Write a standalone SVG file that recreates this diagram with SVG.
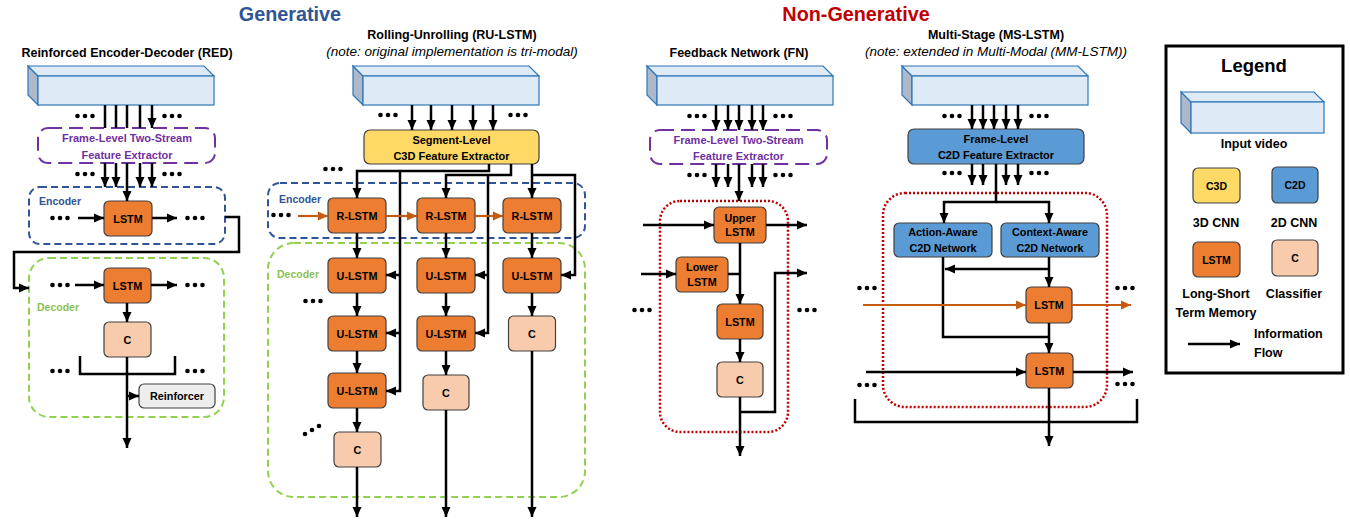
<svg xmlns="http://www.w3.org/2000/svg" xmlns:xlink="http://www.w3.org/1999/xlink" width="1350" height="523" viewBox="0 0 1350 523">
<style>
text{font-family:"Liberation Sans",Arial,sans-serif;font-weight:bold;fill:#000}
.bx{font-size:10.8px;text-anchor:middle}
.h{font-size:12.5px;text-anchor:middle}
.note{font-size:13.5px;font-weight:normal;font-style:italic;text-anchor:middle}
.lg{font-size:12.5px;text-anchor:middle}
.lstm{fill:#ED7D31;stroke:#404040;stroke-width:1.2}
.clf{fill:#F8CBAD;stroke:#404040;stroke-width:1.2}
.c3d{fill:#FFD966;stroke:#404040;stroke-width:1.2}
.c2d{fill:#5B9BD5;stroke:#404040;stroke-width:1.2}
.rf{fill:#EDEDED;stroke:#404040;stroke-width:1.2}
.vf{fill:#DEEBF7;stroke:#2E75B6;stroke-width:1.2}
.vs{fill:#ADB9CA;stroke:#2E75B6;stroke-width:1.2}
.ar{fill:none;stroke:#000;stroke-width:2.5;marker-end:url(#ah)}
.ln{fill:none;stroke:#000;stroke-width:2.5}
.or{fill:none;stroke:#C55A11;stroke-width:2.2;marker-end:url(#aho)}
.pu{fill:none;stroke:#7030A0;stroke-width:2;stroke-dasharray:14 7}
.enc{fill:none;stroke:#2F5597;stroke-width:2;stroke-dasharray:7 4}
.dec{fill:none;stroke:#92D050;stroke-width:2;stroke-dasharray:7 4}
.rd{fill:none;stroke:#C00000;stroke-width:2.5;stroke-dasharray:2 2}
.pt{fill:#7030A0;font-size:11px;text-anchor:middle}
.et{fill:#2F5597;font-size:10.5px}
.dt{fill:#8CC152;font-size:10.5px}
</style>
<defs>
<marker id="ah" markerUnits="userSpaceOnUse" markerWidth="11" markerHeight="10" refX="10" refY="5" orient="auto"><path d="M0,0.5 L10,5 L0,9.5 z" fill="#000"/></marker>
<marker id="aho" markerUnits="userSpaceOnUse" markerWidth="11" markerHeight="10" refX="10" refY="5" orient="auto"><path d="M0,0.5 L10,5 L0,9.5 z" fill="#C55A11"/></marker>
<g id="vid">
<polygon class="vs" points="0,0 10,10 10,39 0,29"/>
<polygon class="vf" points="0,0 176,0 186,10 10,10"/>
<rect class="vf" x="10" y="10" width="176" height="29"/>
</g>
<g id="dots"><circle cx="2.5" cy="0" r="2.3"/><circle cx="10" cy="0" r="2.3"/><circle cx="17.5" cy="0" r="2.3"/></g>
</defs>
<rect width="1350" height="523" fill="#fff"/>

<g id="section-titles">
<text x="290" y="21" style="font-size:19.8px;fill:#2F5597;text-anchor:middle">Generative</text>
<text x="856" y="21" style="font-size:19.8px;fill:#C00000;text-anchor:middle">Non-Generative</text>
<text class="h" x="127" y="57">Reinforced Encoder-Decoder (RED)</text>
<text class="h" x="452" y="39">Rolling-Unrolling (RU-LSTM)</text>
<text class="note" x="452" y="56">(note: original implementation is tri-modal)</text>
<text class="h" x="739" y="57">Feedback Network (FN)</text>
<text class="h" x="996" y="39">Multi-Stage (MS-LSTM)</text>
<text class="note" x="996" y="56">(note: extended in Multi-Modal (MM-LSTM))</text>
</g>

<!-- containers -->
<g id="red-encoder"><rect class="enc" x="29" y="187" width="196" height="57" rx="11"/><text class="et" x="39" y="205">Encoder</text></g>
<g id="red-decoder"><rect class="dec" x="29" y="258" width="195" height="159" rx="20"/><text class="dt" x="37" y="311">Decoder</text></g>
<g id="ru-encoder"><rect class="enc" x="268" y="183" width="317" height="55" rx="12"/><text class="et" x="279" y="203">Encoder</text></g>
<g id="ru-decoder"><rect class="dec" x="268" y="243" width="317" height="254" rx="26"/><text class="dt" x="277" y="278">Decoder</text></g>
<g id="fn-block"><rect class="rd" x="660" y="201" width="128" height="231" rx="20"/></g>
<g id="ms-block"><rect class="rd" x="883" y="193" width="224" height="214" rx="22"/></g>

<!-- RED nodes -->
<g id="red-video"><use xlink:href="#vid" href="#vid" x="28" y="66"/></g>
<g id="red-extractor"><rect class="pu" x="38" y="128" width="177" height="35" rx="10"/><text class="pt" x="127" y="142">Frame-Level Two-Stream</text><text class="pt" x="127" y="159">Feature Extractor</text></g>
<g id="red-enc-lstm"><rect class="lstm" x="104" y="201" width="48" height="35" rx="5"/><text class="bx" x="128" y="222.5">LSTM</text></g>
<g id="red-dec-lstm"><rect class="lstm" x="104" y="268" width="47" height="35" rx="5"/><text class="bx" x="127.5" y="289.5">LSTM</text></g>
<g id="red-classifier"><rect class="clf" x="104" y="322" width="47" height="35" rx="5"/><text class="bx" x="127.5" y="343.5">C</text></g>
<g id="red-reinforcer"><rect class="rf" x="139" y="384" width="76" height="24" rx="5"/><text class="bx" x="177" y="400">Reinforcer</text></g>

<!-- RU-LSTM nodes -->
<g id="ru-video"><use xlink:href="#vid" href="#vid" x="353" y="66"/></g>
<g id="ru-extractor"><rect class="c3d" x="364" y="130" width="175" height="34" rx="6"/><text class="bx" x="451.5" y="144" style="font-size:11px">Segment-Level</text><text class="bx" x="451.5" y="160" style="font-size:11px">C3D Feature Extractor</text></g>
<g id="ru-r1"><rect class="lstm" x="328" y="198" width="58" height="35" rx="5"/><text class="bx" x="357" y="219.5">R-LSTM</text></g>
<g id="ru-r2"><rect class="lstm" x="417" y="198" width="58" height="35" rx="5"/><text class="bx" x="446" y="219.5">R-LSTM</text></g>
<g id="ru-r3"><rect class="lstm" x="503" y="198" width="58" height="35" rx="5"/><text class="bx" x="532" y="219.5">R-LSTM</text></g>
<g id="ru-u11"><rect class="lstm" x="328" y="258" width="58" height="35" rx="5"/><text class="bx" x="357" y="279.5">U-LSTM</text></g>
<g id="ru-u12"><rect class="lstm" x="328" y="316" width="58" height="35" rx="5"/><text class="bx" x="357" y="337.5">U-LSTM</text></g>
<g id="ru-u13"><rect class="lstm" x="328" y="373" width="58" height="35" rx="5"/><text class="bx" x="357" y="394.5">U-LSTM</text></g>
<g id="ru-c1"><rect class="clf" x="334" y="432" width="47" height="35" rx="5"/><text class="bx" x="357.5" y="453.5">C</text></g>
<g id="ru-u21"><rect class="lstm" x="417" y="258" width="58" height="35" rx="5"/><text class="bx" x="446" y="279.5">U-LSTM</text></g>
<g id="ru-u22"><rect class="lstm" x="417" y="316" width="58" height="35" rx="5"/><text class="bx" x="446" y="337.5">U-LSTM</text></g>
<g id="ru-c2"><rect class="clf" x="423" y="375" width="46" height="35" rx="5"/><text class="bx" x="446" y="396.5">C</text></g>
<g id="ru-u31"><rect class="lstm" x="503" y="258" width="58" height="35" rx="5"/><text class="bx" x="532" y="279.5">U-LSTM</text></g>
<g id="ru-c3"><rect class="clf" x="508.5" y="316" width="47" height="35" rx="5"/><text class="bx" x="532" y="337.5">C</text></g>

<!-- FN nodes -->
<g id="fn-video"><use xlink:href="#vid" href="#vid" x="647" y="66"/></g>
<g id="fn-extractor"><rect class="pu" x="650" y="130" width="177" height="34" rx="10"/><text class="pt" x="738.5" y="144">Frame-Level Two-Stream</text><text class="pt" x="738.5" y="160">Feature Extractor</text></g>
<g id="fn-upper"><rect class="lstm" x="714" y="207" width="52" height="36" rx="5"/><text class="bx" x="740" y="222">Upper</text><text class="bx" x="740" y="236">LSTM</text></g>
<g id="fn-lower"><rect class="lstm" x="676" y="257" width="52" height="35" rx="5"/><text class="bx" x="702" y="271">Lower</text><text class="bx" x="702" y="286">LSTM</text></g>
<g id="fn-lstm"><rect class="lstm" x="717" y="304" width="46" height="35" rx="5"/><text class="bx" x="740" y="325.5">LSTM</text></g>
<g id="fn-classifier"><rect class="clf" x="717" y="362" width="46" height="35" rx="5"/><text class="bx" x="740" y="383.5">C</text></g>

<!-- MS-LSTM nodes -->
<g id="ms-video"><use xlink:href="#vid" href="#vid" x="902" y="66"/></g>
<g id="ms-extractor"><rect class="c2d" x="908" y="129" width="176" height="35" rx="6"/><text class="bx" x="996" y="142.5" style="font-size:11px">Frame-Level</text><text class="bx" x="996" y="159" style="font-size:11px">C2D Feature Extractor</text></g>
<g id="ms-action"><rect class="c2d" x="894" y="223" width="98" height="34" rx="5"/><text class="bx" x="943" y="236">Action-Aware</text><text class="bx" x="943" y="252">C2D Network</text></g>
<g id="ms-context"><rect class="c2d" x="1001" y="223" width="98" height="34" rx="5"/><text class="bx" x="1050" y="236">Context-Aware</text><text class="bx" x="1050" y="252">C2D Network</text></g>
<g id="ms-lstm1"><rect class="lstm" x="1026" y="287" width="46" height="36" rx="5"/><text class="bx" x="1049" y="309">LSTM</text></g>
<g id="ms-lstm2"><rect class="lstm" x="1026" y="353" width="47" height="35" rx="5"/><text class="bx" x="1049.5" y="374.5">LSTM</text></g>

<!-- connectors -->
<g id="connectors">
<path class="ar" d="M105,105V128M116,105V128M127,105V128M140,105V128M152,105V128"/>
<path class="ar" d="M105,163V187"/><path class="ar" d="M116,163V187"/><path class="ar" d="M140,163V187"/><path class="ar" d="M152,163V187"/><path class="ar" d="M127,163V201"/>
<path class="ar" d="M78,218H104"/><path class="ar" d="M152,218H177"/>
<path class="ar" d="M225,217H239V252H14V288H29"/>
<path class="ar" d="M75,285H104"/><path class="ar" d="M151,285H177"/>
<path class="ar" d="M127,303V322"/>
<path class="ln" d="M80,356V374H175V356"/>
<path class="ar" d="M127,357V448"/>
<path class="ar" d="M127,396H139"/>

<path class="ar" d="M412,105V130"/><path class="ar" d="M431,105V130"/><path class="ar" d="M452,105V130"/><path class="ar" d="M473,105V130"/><path class="ar" d="M493,105V130"/>
<path class="ar" d="M489,164V171H357V198"/>
<path class="ar" d="M400,171V391H386"/><path class="ar" d="M400,275H386"/><path class="ar" d="M400,333H386"/>
<path class="ar" d="M511,164V175H446V198"/>
<path class="ar" d="M488,175V333H475"/><path class="ar" d="M488,275H475"/>
<path class="ar" d="M532,164V198"/>
<path class="ar" d="M532,175H575V275H561"/>
<path class="or" d="M298,216H328"/><path class="or" d="M386,216H417"/><path class="or" d="M475,216H503"/>
<path class="ar" d="M357,233V258"/><path class="ar" d="M446,233V258"/><path class="ar" d="M532,233V258"/>
<path class="ar" d="M357,293V316"/><path class="ar" d="M357,351V373"/><path class="ar" d="M357,408V432"/><path class="ar" d="M357,467V517"/>
<path class="ar" d="M446,293V316"/><path class="ar" d="M446,351V375"/><path class="ar" d="M446,410V517"/>
<path class="ar" d="M532,293V316"/><path class="ar" d="M532,351V517"/>

<path class="ar" d="M716,105V130"/><path class="ar" d="M728,105V130"/><path class="ar" d="M739,105V130"/><path class="ar" d="M752,105V130"/><path class="ar" d="M763,105V130"/>
<path class="ar" d="M716,164V187"/><path class="ar" d="M728,164V187"/><path class="ar" d="M752,164V187"/><path class="ar" d="M763,164V187"/><path class="ar" d="M739,164V201"/>
<path class="ar" d="M643,225H714"/><path class="ar" d="M766,225H807"/>
<path class="ar" d="M641,274H676"/>
<path class="ln" d="M728,274H740"/>
<path class="ar" d="M740,243V304"/>
<path class="ar" d="M740,339V362"/>
<path class="ar" d="M740,397V456"/>
<path class="ar" d="M740,412H775V273H807"/>

<path class="ar" d="M972,105V129"/><path class="ar" d="M983,105V129"/><path class="ar" d="M994,105V129"/><path class="ar" d="M1006,105V129"/><path class="ar" d="M1018,105V129"/>
<path class="ar" d="M972,164V185"/><path class="ar" d="M983,164V185"/><path class="ar" d="M1006,164V185"/><path class="ar" d="M1018,164V185"/>
<path class="ar" d="M996,164V202H944V223"/><path class="ar" d="M996,202H1049V223"/>
<path class="ln" d="M943,257V337H1049"/>
<path class="ar" d="M1049,323V353"/>
<path class="ar" d="M1049,257V287"/><path class="ar" d="M1049,269H945"/>
<path class="or" d="M863,305H1026"/><path class="or" d="M1072,305H1131"/>
<path class="ar" d="M866,372H1026"/><path class="ar" d="M1073,372H1133"/>
<path class="ln" d="M855,399V422H1137V399"/>
<path class="ar" d="M1049,388V446"/>
</g>

<g id="ellipses" fill="#000">
<use href="#dots" x="75" y="116"/><use href="#dots" x="162" y="116"/>
<use href="#dots" x="75" y="174"/><use href="#dots" x="162" y="174"/>
<use href="#dots" x="50" y="218"/><use href="#dots" x="185" y="218"/>
<use href="#dots" x="50" y="285"/><use href="#dots" x="185" y="285"/>
<use href="#dots" x="50" y="371"/><use href="#dots" x="185" y="371"/>
<use href="#dots" x="378" y="115"/><use href="#dots" x="508" y="115"/>
<use href="#dots" x="323" y="169"/><use href="#dots" x="271" y="215"/>
<use href="#dots" x="303" y="301"/>
<circle cx="305" cy="434" r="2.3"/><circle cx="312" cy="430" r="2.3"/><circle cx="319" cy="426" r="2.3"/>
<use href="#dots" x="687" y="116"/><use href="#dots" x="773" y="116"/>
<use href="#dots" x="687" y="175"/><use href="#dots" x="773" y="175"/>
<use href="#dots" x="632" y="310"/><use href="#dots" x="797" y="310"/>
<use href="#dots" x="942" y="116"/><use href="#dots" x="1029" y="116"/>
<use href="#dots" x="942" y="173"/><use href="#dots" x="1029" y="173"/>
<use href="#dots" x="857" y="288"/><use href="#dots" x="1115" y="288"/>
<use href="#dots" x="857" y="385"/><use href="#dots" x="1115" y="384"/>
</g>

<!-- legend -->
<g id="legend">
<rect x="1166" y="46" width="177" height="327" fill="#fff" stroke="#000" stroke-width="3"/>
<text x="1254" y="72" style="font-size:18.5px;text-anchor:middle">Legend</text>
<g id="legend-video">
<polygon class="vs" points="1181,92 1191,102 1191,133 1181,123"/>
<polygon class="vf" points="1181,92 1314,92 1324,102 1191,102"/>
<rect class="vf" x="1191" y="102" width="133" height="31"/>
<text class="lg" x="1254" y="148">Input video</text>
</g>
<g id="legend-c3d"><rect class="c3d" x="1193" y="168" width="47" height="35" rx="5"/><text class="bx" x="1216.5" y="189.5" style="font-size:10.5px">C3D</text><text class="lg" x="1216" y="227">3D CNN</text></g>
<g id="legend-c2d"><rect class="c2d" x="1272" y="167" width="46" height="36" rx="5"/><text class="bx" x="1295" y="189" style="font-size:10.5px">C2D</text><text class="lg" x="1294" y="227">2D CNN</text></g>
<g id="legend-lstm"><rect class="lstm" x="1193" y="242" width="47" height="35" rx="5"/><text class="bx" x="1216.5" y="263.5" style="font-size:10.5px">LSTM</text><text class="lg" x="1216" y="298">Long-Short</text><text class="lg" x="1216" y="317">Term Memory</text></g>
<g id="legend-clf"><rect class="clf" x="1272" y="240" width="46" height="36" rx="5"/><text class="bx" x="1295" y="262" style="font-size:10.5px">C</text><text class="lg" x="1294" y="298">Classifier</text></g>
<g id="legend-flow"><path class="ar" d="M1188,344H1240"/><text x="1254" y="338" style="font-size:12.5px">Information</text><text x="1254" y="357" style="font-size:12.5px">Flow</text></g>
</g>
</svg>
